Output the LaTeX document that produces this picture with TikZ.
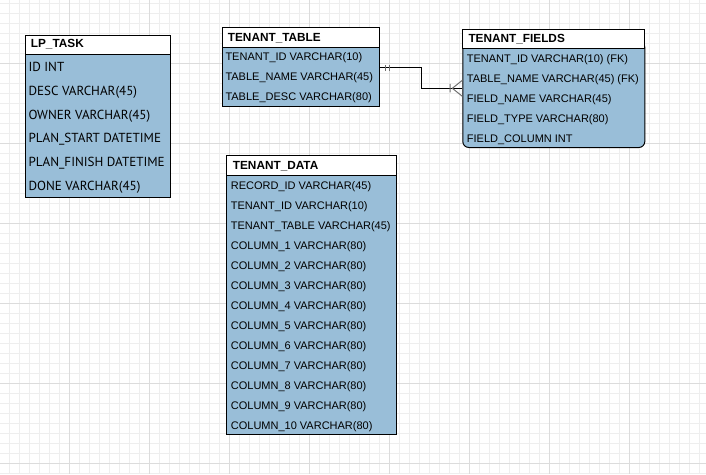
\documentclass[tikz,border=0pt]{standalone}
\usepackage{fontspec}
\setmainfont{Liberation Sans}
\newfontfamily\lpfont{PT Sans}
\definecolor{fieldblue}{HTML}{99BED8}
\definecolor{gridminor}{HTML}{EEEEEE}
\definecolor{gridmajor}{HTML}{DCDCDC}
\definecolor{markgray}{HTML}{707070}
\tikzset{
  gridline/.style={gridminor, line width=1pt},
  gridbold/.style={gridmajor, line width=1pt},
  tablehead/.style={draw, fill=white, line width=1pt, anchor=north west, inner sep=0pt},
  tablebody/.style={draw, fill=fieldblue, line width=1pt, anchor=north west, inner sep=0pt},
  tabletitle/.style={anchor=base west, inner sep=0pt, font=\fontsize{11.8}{14}\selectfont\bfseries},
  field/.style={anchor=base west, inner sep=0pt, font=\fontsize{11}{13}\selectfont},
  lpfield/.style={anchor=base west, inner sep=0pt, font=\lpfont\fontsize{13.1}{15}\selectfont},
  relation/.style={line width=1pt},
  crowmark/.style={markgray, line width=1pt}
}
\begin{document}
\begin{tikzpicture}[x=1pt,y=-1pt]
    \useasboundingbox (0,0) rectangle (706,474);
    \fill[white] (0,0) rectangle (706,474);
    % background grid
    \foreach \i in {0,...,69} \draw[gridline] (9.3+10*\i,0) -- (9.3+10*\i,474);
    \foreach \i in {0,...,47} \draw[gridline] (0,3.3+10*\i) -- (706,3.3+10*\i);
    \foreach \i in {0,...,7} \draw[gridbold] (69.3+80*\i,0) -- (69.3+80*\i,474);
    \foreach \i in {0,...,5} \draw[gridbold] (0,63.3+80*\i) -- (706,63.3+80*\i);

    % LP_TASK
    \node[tablebody, minimum width=144.5, minimum height=142.7] (lptaskbody) at (25,54.3) {};
    \node[tablehead, minimum width=144.5, minimum height=19.8] (lptaskhead) at (25,34.5) {};
    \node[tabletitle] (lptasktitle) at (30.7,47.5) {LP\_TASK};
    \node[lpfield] (lptask1) at (28.3,71.2) {ID INT};
    \node[lpfield] (lptask2) at (28.3,95.1) {DESC VARCHAR(45)};
    \node[lpfield] (lptask3) at (28.3,119.0) {OWNER VARCHAR(45)};
    \node[lpfield] (lptask4) at (28.3,142.9) {PLAN\_START DATETIME};
    \node[lpfield] (lptask5) at (28.3,166.8) {PLAN\_FINISH DATETIME};
    \node[lpfield] (lptask6) at (28.3,190.7) {DONE VARCHAR(45)};

    % TENANT_TABLE
    \node[tablebody, minimum width=157.6, minimum height=58.7] (ttablebody) at (221.7,47.3) {};
    \node[tablehead, minimum width=157.6, minimum height=20] (ttablehead) at (221.7,27.3) {};
    \node[tabletitle] (ttabletitle) at (227.7,41.0) {TENANT\_TABLE};
    \node[field] (ttable1) at (225.3,60.9) {TENANT\_ID VARCHAR(10)};
    \node[field] (ttable2) at (225.3,80.9) {TABLE\_NAME VARCHAR(45)};
    \node[field] (ttable3) at (225.3,100.9) {TABLE\_DESC VARCHAR(80)};

    % TENANT_FIELDS
    \node[tablebody, rounded corners=6pt, minimum width=182, minimum height=106.3] (tfieldsbody) at (462.3,40.7) {};
    \node[tablehead, minimum width=182, minimum height=19.6] (tfieldshead) at (462.3,28.7) {};
    \node[tabletitle] (tfieldstitle) at (468.3,42.0) {TENANT\_FIELDS};
    \node[field] (tfields1) at (466.7,62.2) {TENANT\_ID VARCHAR(10) (FK)};
    \node[field] (tfields2) at (466.7,82.2) {TABLE\_NAME VARCHAR(45) (FK)};
    \node[field] (tfields3) at (466.7,102.2) {FIELD\_NAME VARCHAR(45)};
    \node[field] (tfields4) at (466.7,122.2) {FIELD\_TYPE VARCHAR(80)};
    \node[field] (tfields5) at (466.7,142.2) {FIELD\_COLUMN INT};

    % TENANT_DATA
    \node[tablebody, minimum width=170, minimum height=259] (tdatabody) at (226.3,175.3) {};
    \node[tablehead, minimum width=170, minimum height=20] (tdatahead) at (226.3,155.3) {};
    \node[tabletitle] (tdatatitle) at (232.7,169.3) {TENANT\_DATA};
    \node[field] (tdata1) at (230.7,189.6) {RECORD\_ID VARCHAR(45)};
    \node[field] (tdata2) at (230.7,209.6) {TENANT\_ID VARCHAR(10)};
    \node[field] (tdata3) at (230.7,229.6) {TENANT\_TABLE VARCHAR(45)};
    \node[field] (tdata4) at (230.7,249.6) {COLUMN\_1 VARCHAR(80)};
    \node[field] (tdata5) at (230.7,269.6) {COLUMN\_2 VARCHAR(80)};
    \node[field] (tdata6) at (230.7,289.6) {COLUMN\_3 VARCHAR(80)};
    \node[field] (tdata7) at (230.7,309.6) {COLUMN\_4 VARCHAR(80)};
    \node[field] (tdata8) at (230.7,329.6) {COLUMN\_5 VARCHAR(80)};
    \node[field] (tdata9) at (230.7,349.6) {COLUMN\_6 VARCHAR(80)};
    \node[field] (tdata10) at (230.7,369.6) {COLUMN\_7 VARCHAR(80)};
    \node[field] (tdata11) at (230.7,389.6) {COLUMN\_8 VARCHAR(80)};
    \node[field] (tdata12) at (230.7,409.6) {COLUMN\_9 VARCHAR(80)};
    \node[field] (tdata13) at (230.7,429.6) {COLUMN\_10 VARCHAR(80)};

    % relation TENANT_TABLE -> TENANT_FIELDS
    \coordinate (ttableout) at (379.3,67.7);
    \coordinate (tfieldsin) at (462.3,88.3);
    \draw[relation] (ttableout) -- (421,67.7) |- (tfieldsin);
    \draw[crowmark] (385,65) -- (385,70.7) (389,65) -- (389,70.7);
    \draw[crowmark] (450,83.8) -- (450,92.3) (462.3,80.3) -- (452.3,88.3) -- (462.3,96.3);
\end{tikzpicture}
\end{document}
